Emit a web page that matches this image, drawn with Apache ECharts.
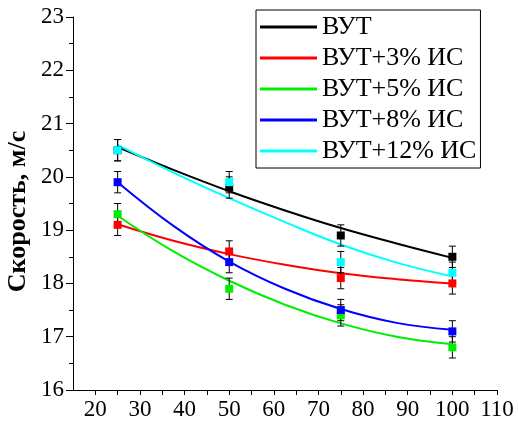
<!DOCTYPE html>
<html>
<head>
<meta charset="utf-8">
<script src="https://cdn.jsdelivr.net/npm/echarts@6/dist/echarts.min.js"></script>
<style>html,body{margin:0;padding:0;background:#fff;}#c{width:518px;height:430px;}</style>
</head>
<body>
<div id="c"></div>
<script>
var seriesNames = ['ВУТ', 'ВУТ+3% ИС', 'ВУТ+5% ИС', 'ВУТ+8% ИС', 'ВУТ+12% ИС'];
var colors = ['#000000', '#ff0000', '#00ee00', '#0000ff', '#00ffff'];
var xPoints = [25, 50, 75, 100];
var ptVut   = [20.5, 19.8, 18.9, 18.5];
var ptVut3  = [19.1, 18.6, 18.1, 18.0];
var ptVut5  = [19.3, 17.9, 17.4, 16.8];
var ptVut8  = [19.9, 18.4, 17.5, 17.1];
var ptVut12 = [20.5, 19.9, 18.4, 18.2];
var errVal = 0.2;
var xFit = [25, 37.5, 50, 62.5, 75, 87.5, 100];
var fitVut   = [20.56, 20.13, 19.73, 19.37, 19.04, 18.75, 18.48];
var fitVut3  = [19.11, 18.80, 18.55, 18.35, 18.19, 18.08, 18.00];
var fitVut5  = [19.27, 18.60, 18.05, 17.60, 17.25, 17.00, 16.86];
var fitVut8  = [19.90, 19.08, 18.41, 17.90, 17.52, 17.26, 17.13];
var fitVut12 = [20.60, 20.08, 19.60, 19.15, 18.73, 18.39, 18.13];

var points = [ptVut, ptVut3, ptVut5, ptVut8, ptVut12];
var fits = [fitVut, fitVut3, fitVut5, fitVut8, fitVut12];
var font = 'Liberation Serif';

var series = [];
fits.forEach(function (f, i) {
  series.push({
    name: seriesNames[i], type: 'line', smooth: 0.4, showSymbol: false, symbol: 'none',
    data: xFit.map(function (x, k) { return [x, f[k]]; }),
    lineStyle: { color: colors[i], width: 2 }, itemStyle: { color: colors[i] }, z: 2
  });
});
points.forEach(function (p, i) {
  series.push({
    name: 'err' + i, type: 'custom',
    data: xPoints.map(function (x, k) { return [x, p[k] - errVal, p[k] + errVal]; }),
    renderItem: function (params, api) {
      var lo = api.coord([api.value(0), api.value(1)]);
      var hi = api.coord([api.value(0), api.value(2)]);
      var w = 3.5;
      var st = { stroke: '#000', lineWidth: 1 };
      return { type: 'group', children: [
        { type: 'line', shape: { x1: lo[0], y1: lo[1], x2: hi[0], y2: hi[1] }, style: st },
        { type: 'line', shape: { x1: lo[0] - w, y1: lo[1], x2: lo[0] + w, y2: lo[1] }, style: st },
        { type: 'line', shape: { x1: hi[0] - w, y1: hi[1], x2: hi[0] + w, y2: hi[1] }, style: st }
      ]};
    }, z: 3, silent: true
  });
  series.push({
    name: 'pt' + i, type: 'scatter', symbol: 'rect', symbolSize: 8,
    data: xPoints.map(function (x, k) { return [x, p[k]]; }),
    itemStyle: { color: colors[i], opacity: 1 }, z: 4
  });
});

var chart = echarts.init(document.getElementById('c'), null, { renderer: 'canvas' });
chart.setOption({
  animation: false,
  grid: { left: 73, top: 17, right: 21, bottom: 40, containLabel: false, outerBoundsMode: 'none' },
  legend: {
    data: seriesNames.map(function (n) { return { name: n, icon: 'rect' }; }),
    orient: 'vertical', left: 256, top: 10,
    itemWidth: 57, itemHeight: 3, itemGap: 5,
    padding: [4, 4, 4, 4],
    borderColor: '#000', borderWidth: 1, backgroundColor: '#fff',
    textStyle: { fontFamily: font, fontSize: 26, color: '#000', lineHeight: 26 }
  },
  xAxis: {
    type: 'value', min: 15, max: 110, interval: 5,
    splitLine: { show: false },
    axisLine: { show: true, lineStyle: { color: '#000', width: 1 } },
    axisTick: { show: true, inside: false, length: 5, lineStyle: { color: '#000' } },
    axisLabel: {
      fontFamily: font, fontSize: 23, color: '#000', margin: 8,
      showMinLabel: false, showMaxLabel: true, hideOverlap: false,
      formatter: function (v) { return (v % 10 === 0) ? String(v) : ''; }
    }
  },
  yAxis: {
    type: 'value', min: 16, max: 23, interval: 1,
    name: 'Скорость, м/с', nameLocation: 'middle', nameGap: 42, nameMoveOverlap: false,
    nameTextStyle: { fontFamily: font, fontSize: 26, fontWeight: 'bold', color: '#000', padding: [0, 16, 0, 0] },
    splitLine: { show: false },
    axisLine: { show: true, lineStyle: { color: '#000', width: 1 } },
    axisTick: { show: true, inside: false, length: 7, lineStyle: { color: '#000' } },
    minorTick: { show: true, splitNumber: 2, length: 4, lineStyle: { color: '#000' } },
    axisLabel: { fontFamily: font, fontSize: 23, color: '#000', margin: 9 }
  },
  series: series
});
</script>
</body>
</html>
